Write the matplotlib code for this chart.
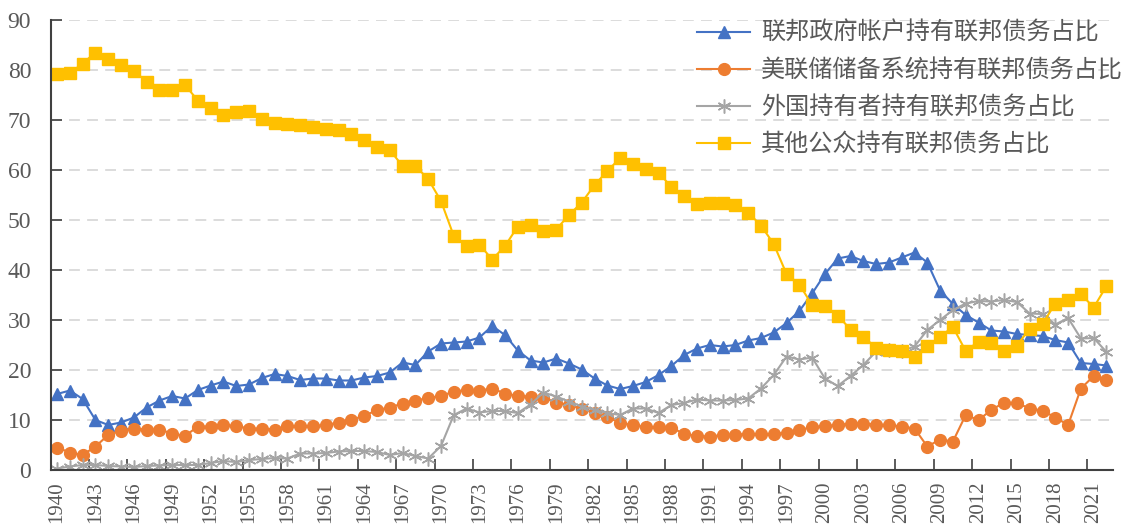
import numpy as np
import matplotlib
matplotlib.use('Agg')
import matplotlib.pyplot as plt

years = list(range(1940, 2023))

gov_acct = [15.2, 15.9, 14.2, 10.0, 9.0, 9.5, 10.5, 12.5, 13.9, 14.8,
            14.3, 16.0, 16.9, 17.7, 16.8, 17.1, 18.4, 19.2, 18.8, 18.0,
            18.3, 18.3, 17.9, 17.9, 18.5, 18.8, 19.5, 21.5, 21.0, 23.7,
            25.3, 25.5, 25.7, 26.5, 28.8, 27.0, 23.9, 21.9, 21.5, 22.3,
            21.3, 20.1, 18.3, 16.9, 16.2, 16.8, 17.6, 19.0, 20.8, 23.0,
            24.3, 25.0, 24.7, 25.0, 25.9, 26.4, 27.5, 29.4, 31.8, 35.3,
            39.2, 42.3, 42.8, 41.8, 41.2, 41.5, 42.5, 43.5, 41.5, 35.9,
            33.2, 31.0, 29.5, 27.9, 27.7, 27.2, 27.0, 26.8, 26.0, 25.5,
            21.4, 21.2, 20.9]

fed = [4.5, 3.5, 3.0, 4.7, 7.0, 7.9, 8.3, 8.1, 8.1, 7.3,
       6.8, 8.7, 8.7, 9.0, 8.8, 8.3, 8.3, 8.1, 8.8, 8.8,
       8.8, 9.0, 9.5, 10.1, 10.8, 12.0, 12.5, 13.3, 13.9, 14.4,
       14.8, 15.7, 16.0, 15.9, 16.3, 15.3, 14.8, 14.7, 14.5, 13.5,
       13.0, 12.3, 11.5, 10.6, 9.4, 9.0, 8.6, 8.6, 8.5, 7.2,
       6.8, 6.7, 7.0, 7.1, 7.2, 7.2, 7.2, 7.5, 8.0, 8.6,
       8.8, 9.0, 9.3, 9.3, 9.1, 9.0, 8.7, 8.3, 4.7, 6.1,
       5.7, 11.0, 10.0, 12.0, 13.5, 13.4, 12.3, 11.9, 10.5, 9.0,
       16.3, 18.8, 18.0]

foreign = [0.3, 0.7, 1.0, 1.0, 0.8, 0.7, 0.6, 0.8, 0.9, 1.0,
           1.0, 1.0, 1.4, 1.8, 1.6, 2.0, 2.2, 2.4, 2.3, 3.3,
           3.3, 3.4, 3.7, 3.8, 3.8, 3.6, 3.0, 3.4, 2.8, 2.3,
           4.8, 11.0, 12.3, 11.5, 11.8, 11.8, 11.4, 13.1, 15.5, 14.7,
           13.7, 12.7, 12.0, 11.4, 11.0, 12.3, 12.3, 11.4, 13.0, 13.4,
           14.1, 13.9, 13.9, 14.0, 14.3, 16.3, 19.0, 22.7, 22.1, 22.5,
           18.3, 16.8, 18.8, 21.0, 23.7, 24.0, 23.8, 24.7, 28.0, 30.0,
           32.0, 33.3, 33.8, 33.7, 34.0, 33.6, 31.3, 31.2, 29.1, 30.4,
           26.3, 26.4, 23.6]

other_public = [79.2, 79.4, 81.3, 83.5, 82.3, 81.1, 79.8, 77.7, 76.1, 76.0,
                77.0, 73.9, 72.5, 71.0, 71.7, 71.8, 70.3, 69.4, 69.2, 69.0,
                68.7, 68.3, 68.0, 67.3, 66.0, 64.7, 64.0, 60.8, 60.8, 58.2,
                53.8, 46.8, 44.9, 45.1, 42.1, 44.8, 48.7, 49.1, 47.8, 48.1,
                51.0, 53.5, 57.0, 59.8, 62.4, 61.2, 60.3, 59.5, 56.6, 54.9,
                53.3, 53.4, 53.4, 53.0, 51.5, 48.9, 45.2, 39.2, 37.1, 33.0,
                32.9, 30.9, 28.1, 26.7, 24.4, 24.1, 23.9, 22.6, 24.8, 26.7,
                28.6, 23.8, 25.7, 25.4, 23.8, 24.9, 28.3, 29.2, 33.3, 34.1,
                35.2, 32.5, 36.8]

labels = ['联邦政府帐户持有联邦债务占比', '美联储储备系统持有联邦债务占比',
          '外国持有者持有联邦债务占比', '其他公众持有联邦债务占比']

plt.rcParams['font.family'] = ['Noto Sans CJK SC', 'DejaVu Sans']

fig = plt.figure(figsize=(11.23, 5.26), dpi=100)
ax = fig.add_axes([0.0451, 1 - 470 / 526, 0.991 - 0.0451, 450 / 526])

x = np.arange(len(years))
ax.plot(x, gov_acct, color='#4472C4', lw=1.5, marker='^', ms=8, label=labels[0])
ax.plot(x, fed, color='#ED7D31', lw=1.5, marker='o', ms=8.5, label=labels[1])
ax.plot(x, foreign, color='#A5A5A5', lw=1.5, marker=(6, 2, 0), ms=10, mew=1.1, label=labels[2])
ax.plot(x, other_public, color='#FFC000', lw=1.5, marker='s', ms=8, label=labels[3])

ax.set_xlim(-0.5, len(years) - 0.5)
ax.set_ylim(0, 90)
ax.set_yticks(range(0, 91, 10))
ax.yaxis.grid(True, color='#d9d9d9', lw=1.3, ls=(0, (6, 4)))
ax.set_axisbelow(True)

ax.set_xticks(np.arange(-0.5, len(years), 3))
ax.set_xticks(np.arange(0, len(years), 3), minor=True)
ax.set_xticklabels([])
ax.set_xticklabels([str(years[i]) for i in range(0, len(years), 3)], minor=True,
                   rotation=90, family='Liberation Serif', fontsize=15, color='#595959')
ax.tick_params(axis='x', which='major', direction='in', length=8, width=1.2, color='#404040')
ax.tick_params(axis='x', which='minor', length=0, pad=8)
ax.tick_params(axis='y', direction='in', length=8, width=1.2, color='#404040', pad=14)
for t in ax.get_yticklabels():
    t.set_family('Liberation Serif')
    t.set_fontsize(17)
    t.set_color('#595959')

for s in ['top', 'right']:
    ax.spines[s].set_visible(False)
ax.spines['left'].set_color('#404040')
ax.spines['bottom'].set_color('#404040')
ax.spines['left'].set_linewidth(1.5)
ax.spines['bottom'].set_linewidth(1.5)

leg = fig.legend(loc='upper right', bbox_to_anchor=(1.0, 1 - 20 / 526), frameon=False,
                 fontsize=17.4, handlelength=2.2, labelspacing=0.46, borderpad=0,
                 borderaxespad=0, handletextpad=0.45)
for t in leg.get_texts():
    t.set_color('#595959')

fig.savefig('out.png', dpi=100)
